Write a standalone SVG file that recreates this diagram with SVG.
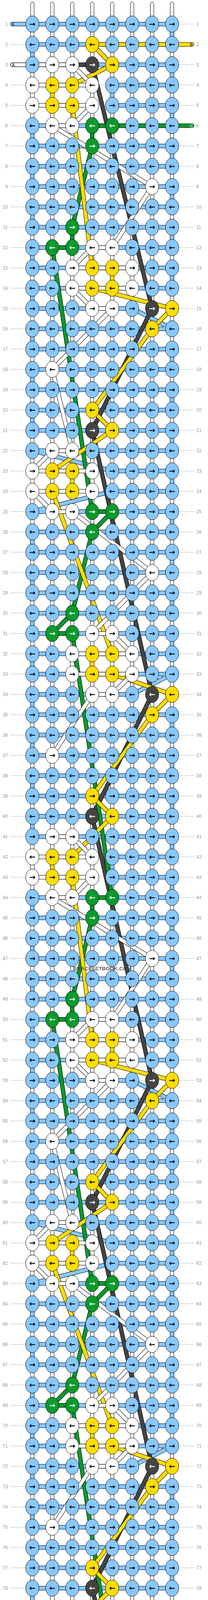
<svg xmlns="http://www.w3.org/2000/svg" xmlns:xlink="http://www.w3.org/1999/xlink" width="532" height="4908" viewBox="0 0 532 4908">
<style>
#nodes ellipse{stroke:#000;stroke-width:1}
#nodes text{font-family:"DejaVu Sans",sans-serif;font-size:19px;font-weight:bold;text-anchor:middle}
#nodes .L,#nodes .R{font-family:"Liberation Sans",Arial,sans-serif;font-size:12px;font-weight:normal;fill:#999}
#nodes .L{text-anchor:end;transform:translate(-62.7px,4.3px)}
#nodes .R{text-anchor:start;transform:translate(419.3px,4.3px)}
.b ellipse{fill:#88c8ff}.w ellipse{fill:#fff}.y ellipse{fill:#ffdd00}.g ellipse{fill:#0b9a2c}.d ellipse{fill:#444}
.g text,.d text{fill:#fff}
.c2{transform:translateX(51.05px)}.c3{transform:translateX(102.1px)}.c4{transform:translateX(153.15px)}.c5{transform:translateX(204.2px)}.c6{transform:translateX(255.25px)}.c7{transform:translateX(306.3px)}.c8{transform:translateX(357.35px)}
.lab{font-family:"Liberation Sans",Arial,sans-serif;font-size:11px;text-anchor:middle}
</style>
<defs>
<pattern id="gp" patternUnits="userSpaceOnUse" x="0" y="61.2" width="10" height="52"><rect width="10" height="1" fill="#bbb"/></pattern>
<path id="pBase" vector-effect="non-scaling-stroke" d="M0,-1V93M1,-1V93M2,-1V93M3,-1V93M4,-1V93M5,-1V93M6,-1V93M7,-1V93"/>
<path id="pE" vector-effect="non-scaling-stroke" d="M-1,0H7V1H0V2H7V3H4V4H7V5H0V6H7V7H0V8H7V9H0V10H7V11H0V12H7V13H0V14H5L7,15H0V16H7V17H0V18H7V19H0V20H7V21H0L4,22H7V23H4L0,24H7V25H0V26H7V27H0V28H7V29H0V30H7V31H0V32H7L5,33H0V34H7V35H0V36H7V37H0V38H7V39H0V40H7V41H4V42H7V43H0V44H7V45H0V46H7V47H0V48H7V49H0V50H7V51H0V52H5L7,53H0V54H7V55H0V56H7V57H0V58H7V59H0L4,60H7V61H4L0,62H7V63H0V64H7V65H0V66H7V67H0V68H7V69H0V70H7L5,71H0V72H7V73H0V74H7V75H0V76H7V77H0V78H7V79H4V80H7V81H0V82H7V83H0V84H7V85H0V86H7V87H0V88H7V89H0V90H5L7,91H0V92H8"/>
<path id="pD" vector-effect="non-scaling-stroke" d="M-1,2L3,2L6,14L3,20L6,33L3,39L6,52L3,58L6,71L3,77L6,90H8"/>
<path id="pC" vector-effect="non-scaling-stroke" d="M8,5H3V6L2,10V11H1L3,24H4L3,25L2,29L1,30H2L4,43H3V44L2,48V49H1L3,62H4L3,63L2,67L1,68H2L4,81H3V82L2,86V87H-1"/>
<path id="pB" vector-effect="non-scaling-stroke" d="M8,1H3L4,2L2,3H1V4H2L3,12H4V13H3L7,14L6,15L3,19L4,20L1,22H2V23H1L4,31H3V32H4L7,33L6,34L3,38L4,39L2,41H1V42H2L3,50H4V51H3L7,52L6,53L3,57L4,58L1,60H2V61H1L4,69H3V70H4L7,71L6,72L3,76L4,77L2,79H1V80H2L3,88H4V89H3L7,90L6,91H-1"/>
<path id="pA" vector-effect="non-scaling-stroke" d="M-1,2H2L3,3H0V4H3L2,5H1L6,8L4,11H3L2,12H5V13H2L3,14H4L1,17L2,21H1L0,22H3V23H0L1,24H2L6,27L3,30H4L5,31H2V32H5L4,33H3L1,36V40H2L3,41H0V42H3L2,43H1L6,46L4,49H3L2,50H5V51H2L3,52H4L1,55L2,59H1L0,60H3V61H0L1,62H2L6,65L3,68H4L5,69H2V70H5L4,71H3L1,74V78H2L3,79H0V80H3L2,81H1L6,84L4,87H3L2,88H5V89H2L3,90H8"/>
</defs>
<rect width="532" height="4908" fill="#fff"/>
<rect id="guides" x="25.7" y="61.2" width="471" height="4785" fill="url(#gp)"/>
<g id="connectors" transform="translate(82.7 61.7) scale(51.05 52)" fill="none" stroke-linejoin="round" stroke-linecap="round">
<use xlink:href="#pBase" stroke="#000" stroke-width="10"/>
<use xlink:href="#pBase" stroke="#fff" stroke-width="8"/>
<use xlink:href="#pBase" stroke="#bbb" stroke-width="1"/>
<use xlink:href="#pE" stroke="#000" stroke-width="11"/>
<use xlink:href="#pE" stroke="#88c8ff" stroke-width="9"/>
<use xlink:href="#pD" stroke="#000" stroke-width="11"/>
<use xlink:href="#pD" stroke="#444" stroke-width="9"/>
<use xlink:href="#pC" stroke="#000" stroke-width="11"/>
<use xlink:href="#pC" stroke="#0b9a2c" stroke-width="9"/>
<use xlink:href="#pB" stroke="#000" stroke-width="11"/>
<use xlink:href="#pB" stroke="#ffdd00" stroke-width="9"/>
<use xlink:href="#pA" stroke="#000" stroke-width="11"/>
<use xlink:href="#pA" stroke="#fff" stroke-width="9"/>
</g>
<g id="endlabels" class="lab">
<text x="34" y="65.6">E</text>
<text x="489.5" y="117.6">B</text>
<text x="34" y="169.6">A</text>
<text x="489.5" y="325.6" fill="#fff">C</text>
<text x="33.5" y="4589.6" fill="#fff">C</text>
<text x="489.5" y="4745.6">A</text>
<text x="34" y="4797.6">B</text>
<text x="489.5" y="4849.6">E</text>
</g>
<g id="nodes" transform="translate(82.7 61.7)">
<g transform="translate(0 0)"><text class="L">1</text><text class="R">1</text><g id="k1-1" class="b"><ellipse rx="17" ry="20.8"/><text y="6.5">→</text></g><g id="k1-2" class="b c2"><ellipse rx="17" ry="20.8"/><text y="6.5">→</text></g><g id="k1-3" class="b c3"><ellipse rx="17" ry="20.8"/><text y="6.5">→</text></g><g id="k1-4" class="b c4"><ellipse rx="17" ry="20.8"/><text y="6.5">→</text></g><g id="k1-5" class="b c5"><ellipse rx="17" ry="20.8"/><text y="6.5">→</text></g><g id="k1-6" class="b c6"><ellipse rx="17" ry="20.8"/><text y="6.5">→</text></g><g id="k1-7" class="b c7"><ellipse rx="17" ry="20.8"/><text y="6.5">→</text></g><g id="k1-8" class="b c8"><ellipse rx="17" ry="20.8"/><text y="6.5">→</text></g></g>
<g transform="translate(0 52)"><text class="L">2</text><text class="R">2</text><g id="k2-1" class="b"><ellipse rx="17" ry="20.8"/><text y="6.5">←</text></g><g id="k2-2" class="b c2"><ellipse rx="17" ry="20.8"/><text y="6.5">←</text></g><g id="k2-3" class="b c3"><ellipse rx="17" ry="20.8"/><text y="6.5">←</text></g><g id="k2-4" class="y c4"><ellipse rx="17" ry="20.8"/><text y="6.5">←</text></g><g id="k2-5" class="b c5"><ellipse rx="17" ry="20.8"/><text y="6.5">←</text></g><g id="k2-6" class="b c6"><ellipse rx="17" ry="20.8"/><text y="6.5">←</text></g><g id="k2-7" class="b c7"><ellipse rx="17" ry="20.8"/><text y="6.5">←</text></g><g id="k2-8" class="b c8"><ellipse rx="17" ry="20.8"/><text y="6.5">←</text></g></g>
<g transform="translate(0 104)"><text class="L">3</text><text class="R">3</text><g id="k3-1" class="b"><ellipse rx="17" ry="20.8"/><text y="6.5">→</text></g><g id="k3-2" class="w c2"><ellipse rx="17" ry="20.8"/><text y="6.5">→</text></g><g id="k3-3" class="w c3"><ellipse rx="17" ry="20.8"/><text y="6.5">→</text></g><g id="k3-4" class="d c4"><ellipse rx="17" ry="20.8"/><text y="6.5">→</text></g><g id="k3-5" class="y c5"><ellipse rx="17" ry="20.8"/><text y="6.5">→</text></g><g id="k3-6" class="b c6"><ellipse rx="17" ry="20.8"/><text y="6.5">→</text></g><g id="k3-7" class="b c7"><ellipse rx="17" ry="20.8"/><text y="6.5">→</text></g><g id="k3-8" class="b c8"><ellipse rx="17" ry="20.8"/><text y="6.5">→</text></g></g>
<g transform="translate(0 156)"><text class="L">4</text><text class="R">4</text><g id="k4-1" class="w"><ellipse rx="17" ry="20.8"/><text y="6.5">←</text></g><g id="k4-2" class="y c2"><ellipse rx="17" ry="20.8"/><text y="6.5">←</text></g><g id="k4-3" class="y c3"><ellipse rx="17" ry="20.8"/><text y="6.5">←</text></g><g id="k4-4" class="w c4"><ellipse rx="17" ry="20.8"/><text y="6.5">←</text></g><g id="k4-5" class="b c5"><ellipse rx="17" ry="20.8"/><text y="6.5">←</text></g><g id="k4-6" class="b c6"><ellipse rx="17" ry="20.8"/><text y="6.5">←</text></g><g id="k4-7" class="b c7"><ellipse rx="17" ry="20.8"/><text y="6.5">←</text></g><g id="k4-8" class="b c8"><ellipse rx="17" ry="20.8"/><text y="6.5">←</text></g></g>
<g transform="translate(0 208)"><text class="L">5</text><text class="R">5</text><g id="k5-1" class="w"><ellipse rx="17" ry="20.8"/><text y="6.5">→</text></g><g id="k5-2" class="y c2"><ellipse rx="17" ry="20.8"/><text y="6.5">→</text></g><g id="k5-3" class="y c3"><ellipse rx="17" ry="20.8"/><text y="6.5">→</text></g><g id="k5-4" class="w c4"><ellipse rx="17" ry="20.8"/><text y="6.5">→</text></g><g id="k5-5" class="b c5"><ellipse rx="17" ry="20.8"/><text y="6.5">→</text></g><g id="k5-6" class="b c6"><ellipse rx="17" ry="20.8"/><text y="6.5">→</text></g><g id="k5-7" class="b c7"><ellipse rx="17" ry="20.8"/><text y="6.5">→</text></g><g id="k5-8" class="b c8"><ellipse rx="17" ry="20.8"/><text y="6.5">→</text></g></g>
<g transform="translate(0 260)"><text class="L">6</text><text class="R">6</text><g id="k6-1" class="b"><ellipse rx="17" ry="20.8"/><text y="6.5">←</text></g><g id="k6-2" class="w c2"><ellipse rx="17" ry="20.8"/><text y="6.5">←</text></g><g id="k6-3" class="w c3"><ellipse rx="17" ry="20.8"/><text y="6.5">←</text></g><g id="k6-4" class="g c4"><ellipse rx="17" ry="20.8"/><text y="6.5">←</text></g><g id="k6-5" class="g c5"><ellipse rx="17" ry="20.8"/><text y="6.5">←</text></g><g id="k6-6" class="b c6"><ellipse rx="17" ry="20.8"/><text y="6.5">←</text></g><g id="k6-7" class="b c7"><ellipse rx="17" ry="20.8"/><text y="6.5">←</text></g><g id="k6-8" class="b c8"><ellipse rx="17" ry="20.8"/><text y="6.5">←</text></g></g>
<g transform="translate(0 312)"><text class="L">7</text><text class="R">7</text><g id="k7-1" class="b"><ellipse rx="17" ry="20.8"/><text y="6.5">→</text></g><g id="k7-2" class="b c2"><ellipse rx="17" ry="20.8"/><text y="6.5">→</text></g><g id="k7-3" class="b c3"><ellipse rx="17" ry="20.8"/><text y="6.5">→</text></g><g id="k7-4" class="g c4"><ellipse rx="17" ry="20.8"/><text y="6.5">→</text></g><g id="k7-5" class="b c5"><ellipse rx="17" ry="20.8"/><text y="6.5">→</text></g><g id="k7-6" class="b c6"><ellipse rx="17" ry="20.8"/><text y="6.5">→</text></g><g id="k7-7" class="b c7"><ellipse rx="17" ry="20.8"/><text y="6.5">→</text></g><g id="k7-8" class="b c8"><ellipse rx="17" ry="20.8"/><text y="6.5">→</text></g></g>
<g transform="translate(0 364)"><text class="L">8</text><text class="R">8</text><g id="k8-1" class="b"><ellipse rx="17" ry="20.8"/><text y="6.5">←</text></g><g id="k8-2" class="b c2"><ellipse rx="17" ry="20.8"/><text y="6.5">←</text></g><g id="k8-3" class="b c3"><ellipse rx="17" ry="20.8"/><text y="6.5">←</text></g><g id="k8-4" class="b c4"><ellipse rx="17" ry="20.8"/><text y="6.5">←</text></g><g id="k8-5" class="b c5"><ellipse rx="17" ry="20.8"/><text y="6.5">←</text></g><g id="k8-6" class="b c6"><ellipse rx="17" ry="20.8"/><text y="6.5">←</text></g><g id="k8-7" class="b c7"><ellipse rx="17" ry="20.8"/><text y="6.5">←</text></g><g id="k8-8" class="b c8"><ellipse rx="17" ry="20.8"/><text y="6.5">←</text></g></g>
<g transform="translate(0 416)"><text class="L">9</text><text class="R">9</text><g id="k9-1" class="b"><ellipse rx="17" ry="20.8"/><text y="6.5">→</text></g><g id="k9-2" class="b c2"><ellipse rx="17" ry="20.8"/><text y="6.5">→</text></g><g id="k9-3" class="b c3"><ellipse rx="17" ry="20.8"/><text y="6.5">→</text></g><g id="k9-4" class="b c4"><ellipse rx="17" ry="20.8"/><text y="6.5">→</text></g><g id="k9-5" class="b c5"><ellipse rx="17" ry="20.8"/><text y="6.5">→</text></g><g id="k9-6" class="b c6"><ellipse rx="17" ry="20.8"/><text y="6.5">→</text></g><g id="k9-7" class="w c7"><ellipse rx="17" ry="20.8"/><text y="6.5">→</text></g><g id="k9-8" class="b c8"><ellipse rx="17" ry="20.8"/><text y="6.5">→</text></g></g>
<g transform="translate(0 468)"><text class="L">10</text><text class="R">10</text><g id="k10-1" class="b"><ellipse rx="17" ry="20.8"/><text y="6.5">←</text></g><g id="k10-2" class="b c2"><ellipse rx="17" ry="20.8"/><text y="6.5">←</text></g><g id="k10-3" class="b c3"><ellipse rx="17" ry="20.8"/><text y="6.5">←</text></g><g id="k10-4" class="b c4"><ellipse rx="17" ry="20.8"/><text y="6.5">←</text></g><g id="k10-5" class="b c5"><ellipse rx="17" ry="20.8"/><text y="6.5">←</text></g><g id="k10-6" class="b c6"><ellipse rx="17" ry="20.8"/><text y="6.5">←</text></g><g id="k10-7" class="b c7"><ellipse rx="17" ry="20.8"/><text y="6.5">←</text></g><g id="k10-8" class="b c8"><ellipse rx="17" ry="20.8"/><text y="6.5">←</text></g></g>
<g transform="translate(0 520)"><text class="L">11</text><text class="R">11</text><g id="k11-1" class="b"><ellipse rx="17" ry="20.8"/><text y="6.5">→</text></g><g id="k11-2" class="b c2"><ellipse rx="17" ry="20.8"/><text y="6.5">→</text></g><g id="k11-3" class="g c3"><ellipse rx="17" ry="20.8"/><text y="6.5">→</text></g><g id="k11-4" class="b c4"><ellipse rx="17" ry="20.8"/><text y="6.5">→</text></g><g id="k11-5" class="b c5"><ellipse rx="17" ry="20.8"/><text y="6.5">→</text></g><g id="k11-6" class="b c6"><ellipse rx="17" ry="20.8"/><text y="6.5">→</text></g><g id="k11-7" class="b c7"><ellipse rx="17" ry="20.8"/><text y="6.5">→</text></g><g id="k11-8" class="b c8"><ellipse rx="17" ry="20.8"/><text y="6.5">→</text></g></g>
<g transform="translate(0 572)"><text class="L">12</text><text class="R">12</text><g id="k12-1" class="b"><ellipse rx="17" ry="20.8"/><text y="6.5">←</text></g><g id="k12-2" class="g c2"><ellipse rx="17" ry="20.8"/><text y="6.5">←</text></g><g id="k12-3" class="g c3"><ellipse rx="17" ry="20.8"/><text y="6.5">←</text></g><g id="k12-4" class="w c4"><ellipse rx="17" ry="20.8"/><text y="6.5">←</text></g><g id="k12-5" class="w c5"><ellipse rx="17" ry="20.8"/><text y="6.5">←</text></g><g id="k12-6" class="b c6"><ellipse rx="17" ry="20.8"/><text y="6.5">←</text></g><g id="k12-7" class="b c7"><ellipse rx="17" ry="20.8"/><text y="6.5">←</text></g><g id="k12-8" class="b c8"><ellipse rx="17" ry="20.8"/><text y="6.5">←</text></g></g>
<g transform="translate(0 624)"><text class="L">13</text><text class="R">13</text><g id="k13-1" class="b"><ellipse rx="17" ry="20.8"/><text y="6.5">→</text></g><g id="k13-2" class="b c2"><ellipse rx="17" ry="20.8"/><text y="6.5">→</text></g><g id="k13-3" class="w c3"><ellipse rx="17" ry="20.8"/><text y="6.5">→</text></g><g id="k13-4" class="y c4"><ellipse rx="17" ry="20.8"/><text y="6.5">→</text></g><g id="k13-5" class="y c5"><ellipse rx="17" ry="20.8"/><text y="6.5">→</text></g><g id="k13-6" class="w c6"><ellipse rx="17" ry="20.8"/><text y="6.5">→</text></g><g id="k13-7" class="b c7"><ellipse rx="17" ry="20.8"/><text y="6.5">→</text></g><g id="k13-8" class="b c8"><ellipse rx="17" ry="20.8"/><text y="6.5">→</text></g></g>
<g transform="translate(0 676)"><text class="L">14</text><text class="R">14</text><g id="k14-1" class="b"><ellipse rx="17" ry="20.8"/><text y="6.5">←</text></g><g id="k14-2" class="b c2"><ellipse rx="17" ry="20.8"/><text y="6.5">←</text></g><g id="k14-3" class="w c3"><ellipse rx="17" ry="20.8"/><text y="6.5">←</text></g><g id="k14-4" class="y c4"><ellipse rx="17" ry="20.8"/><text y="6.5">←</text></g><g id="k14-5" class="y c5"><ellipse rx="17" ry="20.8"/><text y="6.5">←</text></g><g id="k14-6" class="w c6"><ellipse rx="17" ry="20.8"/><text y="6.5">←</text></g><g id="k14-7" class="b c7"><ellipse rx="17" ry="20.8"/><text y="6.5">←</text></g><g id="k14-8" class="b c8"><ellipse rx="17" ry="20.8"/><text y="6.5">←</text></g></g>
<g transform="translate(0 728)"><text class="L">15</text><text class="R">15</text><g id="k15-1" class="b"><ellipse rx="17" ry="20.8"/><text y="6.5">→</text></g><g id="k15-2" class="b c2"><ellipse rx="17" ry="20.8"/><text y="6.5">→</text></g><g id="k15-3" class="b c3"><ellipse rx="17" ry="20.8"/><text y="6.5">→</text></g><g id="k15-4" class="w c4"><ellipse rx="17" ry="20.8"/><text y="6.5">→</text></g><g id="k15-5" class="w c5"><ellipse rx="17" ry="20.8"/><text y="6.5">→</text></g><g id="k15-6" class="b c6"><ellipse rx="17" ry="20.8"/><text y="6.5">→</text></g><g id="k15-7" class="d c7"><ellipse rx="17" ry="20.8"/><text y="6.5">→</text></g><g id="k15-8" class="y c8"><ellipse rx="17" ry="20.8"/><text y="6.5">→</text></g></g>
<g transform="translate(0 780)"><text class="L">16</text><text class="R">16</text><g id="k16-1" class="b"><ellipse rx="17" ry="20.8"/><text y="6.5">←</text></g><g id="k16-2" class="b c2"><ellipse rx="17" ry="20.8"/><text y="6.5">←</text></g><g id="k16-3" class="b c3"><ellipse rx="17" ry="20.8"/><text y="6.5">←</text></g><g id="k16-4" class="b c4"><ellipse rx="17" ry="20.8"/><text y="6.5">←</text></g><g id="k16-5" class="b c5"><ellipse rx="17" ry="20.8"/><text y="6.5">←</text></g><g id="k16-6" class="b c6"><ellipse rx="17" ry="20.8"/><text y="6.5">←</text></g><g id="k16-7" class="y c7"><ellipse rx="17" ry="20.8"/><text y="6.5">←</text></g><g id="k16-8" class="b c8"><ellipse rx="17" ry="20.8"/><text y="6.5">←</text></g></g>
<g transform="translate(0 832)"><text class="L">17</text><text class="R">17</text><g id="k17-1" class="b"><ellipse rx="17" ry="20.8"/><text y="6.5">→</text></g><g id="k17-2" class="b c2"><ellipse rx="17" ry="20.8"/><text y="6.5">→</text></g><g id="k17-3" class="b c3"><ellipse rx="17" ry="20.8"/><text y="6.5">→</text></g><g id="k17-4" class="b c4"><ellipse rx="17" ry="20.8"/><text y="6.5">→</text></g><g id="k17-5" class="b c5"><ellipse rx="17" ry="20.8"/><text y="6.5">→</text></g><g id="k17-6" class="b c6"><ellipse rx="17" ry="20.8"/><text y="6.5">→</text></g><g id="k17-7" class="b c7"><ellipse rx="17" ry="20.8"/><text y="6.5">→</text></g><g id="k17-8" class="b c8"><ellipse rx="17" ry="20.8"/><text y="6.5">→</text></g></g>
<g transform="translate(0 884)"><text class="L">18</text><text class="R">18</text><g id="k18-1" class="b"><ellipse rx="17" ry="20.8"/><text y="6.5">←</text></g><g id="k18-2" class="w c2"><ellipse rx="17" ry="20.8"/><text y="6.5">←</text></g><g id="k18-3" class="b c3"><ellipse rx="17" ry="20.8"/><text y="6.5">←</text></g><g id="k18-4" class="b c4"><ellipse rx="17" ry="20.8"/><text y="6.5">←</text></g><g id="k18-5" class="b c5"><ellipse rx="17" ry="20.8"/><text y="6.5">←</text></g><g id="k18-6" class="b c6"><ellipse rx="17" ry="20.8"/><text y="6.5">←</text></g><g id="k18-7" class="b c7"><ellipse rx="17" ry="20.8"/><text y="6.5">←</text></g><g id="k18-8" class="b c8"><ellipse rx="17" ry="20.8"/><text y="6.5">←</text></g></g>
<g transform="translate(0 936)"><text class="L">19</text><text class="R">19</text><g id="k19-1" class="b"><ellipse rx="17" ry="20.8"/><text y="6.5">→</text></g><g id="k19-2" class="b c2"><ellipse rx="17" ry="20.8"/><text y="6.5">→</text></g><g id="k19-3" class="b c3"><ellipse rx="17" ry="20.8"/><text y="6.5">→</text></g><g id="k19-4" class="b c4"><ellipse rx="17" ry="20.8"/><text y="6.5">→</text></g><g id="k19-5" class="b c5"><ellipse rx="17" ry="20.8"/><text y="6.5">→</text></g><g id="k19-6" class="b c6"><ellipse rx="17" ry="20.8"/><text y="6.5">→</text></g><g id="k19-7" class="b c7"><ellipse rx="17" ry="20.8"/><text y="6.5">→</text></g><g id="k19-8" class="b c8"><ellipse rx="17" ry="20.8"/><text y="6.5">→</text></g></g>
<g transform="translate(0 988)"><text class="L">20</text><text class="R">20</text><g id="k20-1" class="b"><ellipse rx="17" ry="20.8"/><text y="6.5">←</text></g><g id="k20-2" class="b c2"><ellipse rx="17" ry="20.8"/><text y="6.5">←</text></g><g id="k20-3" class="b c3"><ellipse rx="17" ry="20.8"/><text y="6.5">←</text></g><g id="k20-4" class="y c4"><ellipse rx="17" ry="20.8"/><text y="6.5">←</text></g><g id="k20-5" class="b c5"><ellipse rx="17" ry="20.8"/><text y="6.5">←</text></g><g id="k20-6" class="b c6"><ellipse rx="17" ry="20.8"/><text y="6.5">←</text></g><g id="k20-7" class="b c7"><ellipse rx="17" ry="20.8"/><text y="6.5">←</text></g><g id="k20-8" class="b c8"><ellipse rx="17" ry="20.8"/><text y="6.5">←</text></g></g>
<g transform="translate(0 1040)"><text class="L">21</text><text class="R">21</text><g id="k21-1" class="b"><ellipse rx="17" ry="20.8"/><text y="6.5">→</text></g><g id="k21-2" class="b c2"><ellipse rx="17" ry="20.8"/><text y="6.5">→</text></g><g id="k21-3" class="b c3"><ellipse rx="17" ry="20.8"/><text y="6.5">→</text></g><g id="k21-4" class="d c4"><ellipse rx="17" ry="20.8"/><text y="6.5">→</text></g><g id="k21-5" class="y c5"><ellipse rx="17" ry="20.8"/><text y="6.5">→</text></g><g id="k21-6" class="b c6"><ellipse rx="17" ry="20.8"/><text y="6.5">→</text></g><g id="k21-7" class="b c7"><ellipse rx="17" ry="20.8"/><text y="6.5">→</text></g><g id="k21-8" class="b c8"><ellipse rx="17" ry="20.8"/><text y="6.5">→</text></g></g>
<g transform="translate(0 1092)"><text class="L">22</text><text class="R">22</text><g id="k22-1" class="b"><ellipse rx="17" ry="20.8"/><text y="6.5">←</text></g><g id="k22-2" class="w c2"><ellipse rx="17" ry="20.8"/><text y="6.5">←</text></g><g id="k22-3" class="w c3"><ellipse rx="17" ry="20.8"/><text y="6.5">←</text></g><g id="k22-4" class="b c4"><ellipse rx="17" ry="20.8"/><text y="6.5">←</text></g><g id="k22-5" class="b c5"><ellipse rx="17" ry="20.8"/><text y="6.5">←</text></g><g id="k22-6" class="b c6"><ellipse rx="17" ry="20.8"/><text y="6.5">←</text></g><g id="k22-7" class="b c7"><ellipse rx="17" ry="20.8"/><text y="6.5">←</text></g><g id="k22-8" class="b c8"><ellipse rx="17" ry="20.8"/><text y="6.5">←</text></g></g>
<g transform="translate(0 1144)"><text class="L">23</text><text class="R">23</text><g id="k23-1" class="w"><ellipse rx="17" ry="20.8"/><text y="6.5">→</text></g><g id="k23-2" class="y c2"><ellipse rx="17" ry="20.8"/><text y="6.5">→</text></g><g id="k23-3" class="y c3"><ellipse rx="17" ry="20.8"/><text y="6.5">→</text></g><g id="k23-4" class="w c4"><ellipse rx="17" ry="20.8"/><text y="6.5">→</text></g><g id="k23-5" class="b c5"><ellipse rx="17" ry="20.8"/><text y="6.5">→</text></g><g id="k23-6" class="b c6"><ellipse rx="17" ry="20.8"/><text y="6.5">→</text></g><g id="k23-7" class="b c7"><ellipse rx="17" ry="20.8"/><text y="6.5">→</text></g><g id="k23-8" class="b c8"><ellipse rx="17" ry="20.8"/><text y="6.5">→</text></g></g>
<g transform="translate(0 1196)"><text class="L">24</text><text class="R">24</text><g id="k24-1" class="w"><ellipse rx="17" ry="20.8"/><text y="6.5">←</text></g><g id="k24-2" class="y c2"><ellipse rx="17" ry="20.8"/><text y="6.5">←</text></g><g id="k24-3" class="y c3"><ellipse rx="17" ry="20.8"/><text y="6.5">←</text></g><g id="k24-4" class="w c4"><ellipse rx="17" ry="20.8"/><text y="6.5">←</text></g><g id="k24-5" class="b c5"><ellipse rx="17" ry="20.8"/><text y="6.5">←</text></g><g id="k24-6" class="b c6"><ellipse rx="17" ry="20.8"/><text y="6.5">←</text></g><g id="k24-7" class="b c7"><ellipse rx="17" ry="20.8"/><text y="6.5">←</text></g><g id="k24-8" class="b c8"><ellipse rx="17" ry="20.8"/><text y="6.5">←</text></g></g>
<g transform="translate(0 1248)"><text class="L">25</text><text class="R">25</text><g id="k25-1" class="b"><ellipse rx="17" ry="20.8"/><text y="6.5">→</text></g><g id="k25-2" class="w c2"><ellipse rx="17" ry="20.8"/><text y="6.5">→</text></g><g id="k25-3" class="w c3"><ellipse rx="17" ry="20.8"/><text y="6.5">→</text></g><g id="k25-4" class="g c4"><ellipse rx="17" ry="20.8"/><text y="6.5">→</text></g><g id="k25-5" class="g c5"><ellipse rx="17" ry="20.8"/><text y="6.5">→</text></g><g id="k25-6" class="b c6"><ellipse rx="17" ry="20.8"/><text y="6.5">→</text></g><g id="k25-7" class="b c7"><ellipse rx="17" ry="20.8"/><text y="6.5">→</text></g><g id="k25-8" class="b c8"><ellipse rx="17" ry="20.8"/><text y="6.5">→</text></g></g>
<g transform="translate(0 1300)"><text class="L">26</text><text class="R">26</text><g id="k26-1" class="b"><ellipse rx="17" ry="20.8"/><text y="6.5">←</text></g><g id="k26-2" class="b c2"><ellipse rx="17" ry="20.8"/><text y="6.5">←</text></g><g id="k26-3" class="b c3"><ellipse rx="17" ry="20.8"/><text y="6.5">←</text></g><g id="k26-4" class="g c4"><ellipse rx="17" ry="20.8"/><text y="6.5">←</text></g><g id="k26-5" class="b c5"><ellipse rx="17" ry="20.8"/><text y="6.5">←</text></g><g id="k26-6" class="b c6"><ellipse rx="17" ry="20.8"/><text y="6.5">←</text></g><g id="k26-7" class="b c7"><ellipse rx="17" ry="20.8"/><text y="6.5">←</text></g><g id="k26-8" class="b c8"><ellipse rx="17" ry="20.8"/><text y="6.5">←</text></g></g>
<g transform="translate(0 1352)"><text class="L">27</text><text class="R">27</text><g id="k27-1" class="b"><ellipse rx="17" ry="20.8"/><text y="6.5">→</text></g><g id="k27-2" class="b c2"><ellipse rx="17" ry="20.8"/><text y="6.5">→</text></g><g id="k27-3" class="b c3"><ellipse rx="17" ry="20.8"/><text y="6.5">→</text></g><g id="k27-4" class="b c4"><ellipse rx="17" ry="20.8"/><text y="6.5">→</text></g><g id="k27-5" class="b c5"><ellipse rx="17" ry="20.8"/><text y="6.5">→</text></g><g id="k27-6" class="b c6"><ellipse rx="17" ry="20.8"/><text y="6.5">→</text></g><g id="k27-7" class="b c7"><ellipse rx="17" ry="20.8"/><text y="6.5">→</text></g><g id="k27-8" class="b c8"><ellipse rx="17" ry="20.8"/><text y="6.5">→</text></g></g>
<g transform="translate(0 1404)"><text class="L">28</text><text class="R">28</text><g id="k28-1" class="b"><ellipse rx="17" ry="20.8"/><text y="6.5">←</text></g><g id="k28-2" class="b c2"><ellipse rx="17" ry="20.8"/><text y="6.5">←</text></g><g id="k28-3" class="b c3"><ellipse rx="17" ry="20.8"/><text y="6.5">←</text></g><g id="k28-4" class="b c4"><ellipse rx="17" ry="20.8"/><text y="6.5">←</text></g><g id="k28-5" class="b c5"><ellipse rx="17" ry="20.8"/><text y="6.5">←</text></g><g id="k28-6" class="b c6"><ellipse rx="17" ry="20.8"/><text y="6.5">←</text></g><g id="k28-7" class="w c7"><ellipse rx="17" ry="20.8"/><text y="6.5">←</text></g><g id="k28-8" class="b c8"><ellipse rx="17" ry="20.8"/><text y="6.5">←</text></g></g>
<g transform="translate(0 1456)"><text class="L">29</text><text class="R">29</text><g id="k29-1" class="b"><ellipse rx="17" ry="20.8"/><text y="6.5">→</text></g><g id="k29-2" class="b c2"><ellipse rx="17" ry="20.8"/><text y="6.5">→</text></g><g id="k29-3" class="b c3"><ellipse rx="17" ry="20.8"/><text y="6.5">→</text></g><g id="k29-4" class="b c4"><ellipse rx="17" ry="20.8"/><text y="6.5">→</text></g><g id="k29-5" class="b c5"><ellipse rx="17" ry="20.8"/><text y="6.5">→</text></g><g id="k29-6" class="b c6"><ellipse rx="17" ry="20.8"/><text y="6.5">→</text></g><g id="k29-7" class="b c7"><ellipse rx="17" ry="20.8"/><text y="6.5">→</text></g><g id="k29-8" class="b c8"><ellipse rx="17" ry="20.8"/><text y="6.5">→</text></g></g>
<g transform="translate(0 1508)"><text class="L">30</text><text class="R">30</text><g id="k30-1" class="b"><ellipse rx="17" ry="20.8"/><text y="6.5">←</text></g><g id="k30-2" class="b c2"><ellipse rx="17" ry="20.8"/><text y="6.5">←</text></g><g id="k30-3" class="g c3"><ellipse rx="17" ry="20.8"/><text y="6.5">←</text></g><g id="k30-4" class="b c4"><ellipse rx="17" ry="20.8"/><text y="6.5">←</text></g><g id="k30-5" class="b c5"><ellipse rx="17" ry="20.8"/><text y="6.5">←</text></g><g id="k30-6" class="b c6"><ellipse rx="17" ry="20.8"/><text y="6.5">←</text></g><g id="k30-7" class="b c7"><ellipse rx="17" ry="20.8"/><text y="6.5">←</text></g><g id="k30-8" class="b c8"><ellipse rx="17" ry="20.8"/><text y="6.5">←</text></g></g>
<g transform="translate(0 1560)"><text class="L">31</text><text class="R">31</text><g id="k31-1" class="b"><ellipse rx="17" ry="20.8"/><text y="6.5">→</text></g><g id="k31-2" class="g c2"><ellipse rx="17" ry="20.8"/><text y="6.5">→</text></g><g id="k31-3" class="g c3"><ellipse rx="17" ry="20.8"/><text y="6.5">→</text></g><g id="k31-4" class="w c4"><ellipse rx="17" ry="20.8"/><text y="6.5">→</text></g><g id="k31-5" class="w c5"><ellipse rx="17" ry="20.8"/><text y="6.5">→</text></g><g id="k31-6" class="b c6"><ellipse rx="17" ry="20.8"/><text y="6.5">→</text></g><g id="k31-7" class="b c7"><ellipse rx="17" ry="20.8"/><text y="6.5">→</text></g><g id="k31-8" class="b c8"><ellipse rx="17" ry="20.8"/><text y="6.5">→</text></g></g>
<g transform="translate(0 1612)"><text class="L">32</text><text class="R">32</text><g id="k32-1" class="b"><ellipse rx="17" ry="20.8"/><text y="6.5">←</text></g><g id="k32-2" class="b c2"><ellipse rx="17" ry="20.8"/><text y="6.5">←</text></g><g id="k32-3" class="w c3"><ellipse rx="17" ry="20.8"/><text y="6.5">←</text></g><g id="k32-4" class="y c4"><ellipse rx="17" ry="20.8"/><text y="6.5">←</text></g><g id="k32-5" class="y c5"><ellipse rx="17" ry="20.8"/><text y="6.5">←</text></g><g id="k32-6" class="w c6"><ellipse rx="17" ry="20.8"/><text y="6.5">←</text></g><g id="k32-7" class="b c7"><ellipse rx="17" ry="20.8"/><text y="6.5">←</text></g><g id="k32-8" class="b c8"><ellipse rx="17" ry="20.8"/><text y="6.5">←</text></g></g>
<g transform="translate(0 1664)"><text class="L">33</text><text class="R">33</text><g id="k33-1" class="b"><ellipse rx="17" ry="20.8"/><text y="6.5">→</text></g><g id="k33-2" class="b c2"><ellipse rx="17" ry="20.8"/><text y="6.5">→</text></g><g id="k33-3" class="w c3"><ellipse rx="17" ry="20.8"/><text y="6.5">→</text></g><g id="k33-4" class="y c4"><ellipse rx="17" ry="20.8"/><text y="6.5">→</text></g><g id="k33-5" class="y c5"><ellipse rx="17" ry="20.8"/><text y="6.5">→</text></g><g id="k33-6" class="w c6"><ellipse rx="17" ry="20.8"/><text y="6.5">→</text></g><g id="k33-7" class="b c7"><ellipse rx="17" ry="20.8"/><text y="6.5">→</text></g><g id="k33-8" class="b c8"><ellipse rx="17" ry="20.8"/><text y="6.5">→</text></g></g>
<g transform="translate(0 1716)"><text class="L">34</text><text class="R">34</text><g id="k34-1" class="b"><ellipse rx="17" ry="20.8"/><text y="6.5">←</text></g><g id="k34-2" class="b c2"><ellipse rx="17" ry="20.8"/><text y="6.5">←</text></g><g id="k34-3" class="b c3"><ellipse rx="17" ry="20.8"/><text y="6.5">←</text></g><g id="k34-4" class="w c4"><ellipse rx="17" ry="20.8"/><text y="6.5">←</text></g><g id="k34-5" class="w c5"><ellipse rx="17" ry="20.8"/><text y="6.5">←</text></g><g id="k34-6" class="b c6"><ellipse rx="17" ry="20.8"/><text y="6.5">←</text></g><g id="k34-7" class="d c7"><ellipse rx="17" ry="20.8"/><text y="6.5">←</text></g><g id="k34-8" class="y c8"><ellipse rx="17" ry="20.8"/><text y="6.5">←</text></g></g>
<g transform="translate(0 1768)"><text class="L">35</text><text class="R">35</text><g id="k35-1" class="b"><ellipse rx="17" ry="20.8"/><text y="6.5">→</text></g><g id="k35-2" class="b c2"><ellipse rx="17" ry="20.8"/><text y="6.5">→</text></g><g id="k35-3" class="b c3"><ellipse rx="17" ry="20.8"/><text y="6.5">→</text></g><g id="k35-4" class="b c4"><ellipse rx="17" ry="20.8"/><text y="6.5">→</text></g><g id="k35-5" class="b c5"><ellipse rx="17" ry="20.8"/><text y="6.5">→</text></g><g id="k35-6" class="b c6"><ellipse rx="17" ry="20.8"/><text y="6.5">→</text></g><g id="k35-7" class="y c7"><ellipse rx="17" ry="20.8"/><text y="6.5">→</text></g><g id="k35-8" class="b c8"><ellipse rx="17" ry="20.8"/><text y="6.5">→</text></g></g>
<g transform="translate(0 1820)"><text class="L">36</text><text class="R">36</text><g id="k36-1" class="b"><ellipse rx="17" ry="20.8"/><text y="6.5">←</text></g><g id="k36-2" class="b c2"><ellipse rx="17" ry="20.8"/><text y="6.5">←</text></g><g id="k36-3" class="b c3"><ellipse rx="17" ry="20.8"/><text y="6.5">←</text></g><g id="k36-4" class="b c4"><ellipse rx="17" ry="20.8"/><text y="6.5">←</text></g><g id="k36-5" class="b c5"><ellipse rx="17" ry="20.8"/><text y="6.5">←</text></g><g id="k36-6" class="b c6"><ellipse rx="17" ry="20.8"/><text y="6.5">←</text></g><g id="k36-7" class="b c7"><ellipse rx="17" ry="20.8"/><text y="6.5">←</text></g><g id="k36-8" class="b c8"><ellipse rx="17" ry="20.8"/><text y="6.5">←</text></g></g>
<g transform="translate(0 1872)"><text class="L">37</text><text class="R">37</text><g id="k37-1" class="b"><ellipse rx="17" ry="20.8"/><text y="6.5">→</text></g><g id="k37-2" class="w c2"><ellipse rx="17" ry="20.8"/><text y="6.5">→</text></g><g id="k37-3" class="b c3"><ellipse rx="17" ry="20.8"/><text y="6.5">→</text></g><g id="k37-4" class="b c4"><ellipse rx="17" ry="20.8"/><text y="6.5">→</text></g><g id="k37-5" class="b c5"><ellipse rx="17" ry="20.8"/><text y="6.5">→</text></g><g id="k37-6" class="b c6"><ellipse rx="17" ry="20.8"/><text y="6.5">→</text></g><g id="k37-7" class="b c7"><ellipse rx="17" ry="20.8"/><text y="6.5">→</text></g><g id="k37-8" class="b c8"><ellipse rx="17" ry="20.8"/><text y="6.5">→</text></g></g>
<g transform="translate(0 1924)"><text class="L">38</text><text class="R">38</text><g id="k38-1" class="b"><ellipse rx="17" ry="20.8"/><text y="6.5">←</text></g><g id="k38-2" class="b c2"><ellipse rx="17" ry="20.8"/><text y="6.5">←</text></g><g id="k38-3" class="b c3"><ellipse rx="17" ry="20.8"/><text y="6.5">←</text></g><g id="k38-4" class="b c4"><ellipse rx="17" ry="20.8"/><text y="6.5">←</text></g><g id="k38-5" class="b c5"><ellipse rx="17" ry="20.8"/><text y="6.5">←</text></g><g id="k38-6" class="b c6"><ellipse rx="17" ry="20.8"/><text y="6.5">←</text></g><g id="k38-7" class="b c7"><ellipse rx="17" ry="20.8"/><text y="6.5">←</text></g><g id="k38-8" class="b c8"><ellipse rx="17" ry="20.8"/><text y="6.5">←</text></g></g>
<g transform="translate(0 1976)"><text class="L">39</text><text class="R">39</text><g id="k39-1" class="b"><ellipse rx="17" ry="20.8"/><text y="6.5">→</text></g><g id="k39-2" class="b c2"><ellipse rx="17" ry="20.8"/><text y="6.5">→</text></g><g id="k39-3" class="b c3"><ellipse rx="17" ry="20.8"/><text y="6.5">→</text></g><g id="k39-4" class="y c4"><ellipse rx="17" ry="20.8"/><text y="6.5">→</text></g><g id="k39-5" class="b c5"><ellipse rx="17" ry="20.8"/><text y="6.5">→</text></g><g id="k39-6" class="b c6"><ellipse rx="17" ry="20.8"/><text y="6.5">→</text></g><g id="k39-7" class="b c7"><ellipse rx="17" ry="20.8"/><text y="6.5">→</text></g><g id="k39-8" class="b c8"><ellipse rx="17" ry="20.8"/><text y="6.5">→</text></g></g>
<g transform="translate(0 2028)"><text class="L">40</text><text class="R">40</text><g id="k40-1" class="b"><ellipse rx="17" ry="20.8"/><text y="6.5">←</text></g><g id="k40-2" class="b c2"><ellipse rx="17" ry="20.8"/><text y="6.5">←</text></g><g id="k40-3" class="b c3"><ellipse rx="17" ry="20.8"/><text y="6.5">←</text></g><g id="k40-4" class="d c4"><ellipse rx="17" ry="20.8"/><text y="6.5">←</text></g><g id="k40-5" class="y c5"><ellipse rx="17" ry="20.8"/><text y="6.5">←</text></g><g id="k40-6" class="b c6"><ellipse rx="17" ry="20.8"/><text y="6.5">←</text></g><g id="k40-7" class="b c7"><ellipse rx="17" ry="20.8"/><text y="6.5">←</text></g><g id="k40-8" class="b c8"><ellipse rx="17" ry="20.8"/><text y="6.5">←</text></g></g>
<g transform="translate(0 2080)"><text class="L">41</text><text class="R">41</text><g id="k41-1" class="b"><ellipse rx="17" ry="20.8"/><text y="6.5">→</text></g><g id="k41-2" class="w c2"><ellipse rx="17" ry="20.8"/><text y="6.5">→</text></g><g id="k41-3" class="w c3"><ellipse rx="17" ry="20.8"/><text y="6.5">→</text></g><g id="k41-4" class="b c4"><ellipse rx="17" ry="20.8"/><text y="6.5">→</text></g><g id="k41-5" class="b c5"><ellipse rx="17" ry="20.8"/><text y="6.5">→</text></g><g id="k41-6" class="b c6"><ellipse rx="17" ry="20.8"/><text y="6.5">→</text></g><g id="k41-7" class="b c7"><ellipse rx="17" ry="20.8"/><text y="6.5">→</text></g><g id="k41-8" class="b c8"><ellipse rx="17" ry="20.8"/><text y="6.5">→</text></g></g>
<g transform="translate(0 2132)"><text class="L">42</text><text class="R">42</text><g id="k42-1" class="w"><ellipse rx="17" ry="20.8"/><text y="6.5">←</text></g><g id="k42-2" class="y c2"><ellipse rx="17" ry="20.8"/><text y="6.5">←</text></g><g id="k42-3" class="y c3"><ellipse rx="17" ry="20.8"/><text y="6.5">←</text></g><g id="k42-4" class="w c4"><ellipse rx="17" ry="20.8"/><text y="6.5">←</text></g><g id="k42-5" class="b c5"><ellipse rx="17" ry="20.8"/><text y="6.5">←</text></g><g id="k42-6" class="b c6"><ellipse rx="17" ry="20.8"/><text y="6.5">←</text></g><g id="k42-7" class="b c7"><ellipse rx="17" ry="20.8"/><text y="6.5">←</text></g><g id="k42-8" class="b c8"><ellipse rx="17" ry="20.8"/><text y="6.5">←</text></g></g>
<g transform="translate(0 2184)"><text class="L">43</text><text class="R">43</text><g id="k43-1" class="w"><ellipse rx="17" ry="20.8"/><text y="6.5">→</text></g><g id="k43-2" class="y c2"><ellipse rx="17" ry="20.8"/><text y="6.5">→</text></g><g id="k43-3" class="y c3"><ellipse rx="17" ry="20.8"/><text y="6.5">→</text></g><g id="k43-4" class="w c4"><ellipse rx="17" ry="20.8"/><text y="6.5">→</text></g><g id="k43-5" class="b c5"><ellipse rx="17" ry="20.8"/><text y="6.5">→</text></g><g id="k43-6" class="b c6"><ellipse rx="17" ry="20.8"/><text y="6.5">→</text></g><g id="k43-7" class="b c7"><ellipse rx="17" ry="20.8"/><text y="6.5">→</text></g><g id="k43-8" class="b c8"><ellipse rx="17" ry="20.8"/><text y="6.5">→</text></g></g>
<g transform="translate(0 2236)"><text class="L">44</text><text class="R">44</text><g id="k44-1" class="b"><ellipse rx="17" ry="20.8"/><text y="6.5">←</text></g><g id="k44-2" class="w c2"><ellipse rx="17" ry="20.8"/><text y="6.5">←</text></g><g id="k44-3" class="w c3"><ellipse rx="17" ry="20.8"/><text y="6.5">←</text></g><g id="k44-4" class="g c4"><ellipse rx="17" ry="20.8"/><text y="6.5">←</text></g><g id="k44-5" class="g c5"><ellipse rx="17" ry="20.8"/><text y="6.5">←</text></g><g id="k44-6" class="b c6"><ellipse rx="17" ry="20.8"/><text y="6.5">←</text></g><g id="k44-7" class="b c7"><ellipse rx="17" ry="20.8"/><text y="6.5">←</text></g><g id="k44-8" class="b c8"><ellipse rx="17" ry="20.8"/><text y="6.5">←</text></g></g>
<g transform="translate(0 2288)"><text class="L">45</text><text class="R">45</text><g id="k45-1" class="b"><ellipse rx="17" ry="20.8"/><text y="6.5">→</text></g><g id="k45-2" class="b c2"><ellipse rx="17" ry="20.8"/><text y="6.5">→</text></g><g id="k45-3" class="b c3"><ellipse rx="17" ry="20.8"/><text y="6.5">→</text></g><g id="k45-4" class="g c4"><ellipse rx="17" ry="20.8"/><text y="6.5">→</text></g><g id="k45-5" class="b c5"><ellipse rx="17" ry="20.8"/><text y="6.5">→</text></g><g id="k45-6" class="b c6"><ellipse rx="17" ry="20.8"/><text y="6.5">→</text></g><g id="k45-7" class="b c7"><ellipse rx="17" ry="20.8"/><text y="6.5">→</text></g><g id="k45-8" class="b c8"><ellipse rx="17" ry="20.8"/><text y="6.5">→</text></g></g>
<g transform="translate(0 2340)"><text class="L">46</text><text class="R">46</text><g id="k46-1" class="b"><ellipse rx="17" ry="20.8"/><text y="6.5">←</text></g><g id="k46-2" class="b c2"><ellipse rx="17" ry="20.8"/><text y="6.5">←</text></g><g id="k46-3" class="b c3"><ellipse rx="17" ry="20.8"/><text y="6.5">←</text></g><g id="k46-4" class="b c4"><ellipse rx="17" ry="20.8"/><text y="6.5">←</text></g><g id="k46-5" class="b c5"><ellipse rx="17" ry="20.8"/><text y="6.5">←</text></g><g id="k46-6" class="b c6"><ellipse rx="17" ry="20.8"/><text y="6.5">←</text></g><g id="k46-7" class="b c7"><ellipse rx="17" ry="20.8"/><text y="6.5">←</text></g><g id="k46-8" class="b c8"><ellipse rx="17" ry="20.8"/><text y="6.5">←</text></g></g>
<g transform="translate(0 2392)"><text class="L">47</text><text class="R">47</text><g id="k47-1" class="b"><ellipse rx="17" ry="20.8"/><text y="6.5">→</text></g><g id="k47-2" class="b c2"><ellipse rx="17" ry="20.8"/><text y="6.5">→</text></g><g id="k47-3" class="b c3"><ellipse rx="17" ry="20.8"/><text y="6.5">→</text></g><g id="k47-4" class="b c4"><ellipse rx="17" ry="20.8"/><text y="6.5">→</text></g><g id="k47-5" class="b c5"><ellipse rx="17" ry="20.8"/><text y="6.5">→</text></g><g id="k47-6" class="b c6"><ellipse rx="17" ry="20.8"/><text y="6.5">→</text></g><g id="k47-7" class="w c7"><ellipse rx="17" ry="20.8"/><text y="6.5">→</text></g><g id="k47-8" class="b c8"><ellipse rx="17" ry="20.8"/><text y="6.5">→</text></g></g>
<g transform="translate(0 2444)"><text class="L">48</text><text class="R">48</text><g id="k48-1" class="b"><ellipse rx="17" ry="20.8"/><text y="6.5">←</text></g><g id="k48-2" class="b c2"><ellipse rx="17" ry="20.8"/><text y="6.5">←</text></g><g id="k48-3" class="b c3"><ellipse rx="17" ry="20.8"/><text y="6.5">←</text></g><g id="k48-4" class="b c4"><ellipse rx="17" ry="20.8"/><text y="6.5">←</text></g><g id="k48-5" class="b c5"><ellipse rx="17" ry="20.8"/><text y="6.5">←</text></g><g id="k48-6" class="b c6"><ellipse rx="17" ry="20.8"/><text y="6.5">←</text></g><g id="k48-7" class="b c7"><ellipse rx="17" ry="20.8"/><text y="6.5">←</text></g><g id="k48-8" class="b c8"><ellipse rx="17" ry="20.8"/><text y="6.5">←</text></g></g>
<g transform="translate(0 2496)"><text class="L">49</text><text class="R">49</text><g id="k49-1" class="b"><ellipse rx="17" ry="20.8"/><text y="6.5">→</text></g><g id="k49-2" class="b c2"><ellipse rx="17" ry="20.8"/><text y="6.5">→</text></g><g id="k49-3" class="g c3"><ellipse rx="17" ry="20.8"/><text y="6.5">→</text></g><g id="k49-4" class="b c4"><ellipse rx="17" ry="20.8"/><text y="6.5">→</text></g><g id="k49-5" class="b c5"><ellipse rx="17" ry="20.8"/><text y="6.5">→</text></g><g id="k49-6" class="b c6"><ellipse rx="17" ry="20.8"/><text y="6.5">→</text></g><g id="k49-7" class="b c7"><ellipse rx="17" ry="20.8"/><text y="6.5">→</text></g><g id="k49-8" class="b c8"><ellipse rx="17" ry="20.8"/><text y="6.5">→</text></g></g>
<g transform="translate(0 2548)"><text class="L">50</text><text class="R">50</text><g id="k50-1" class="b"><ellipse rx="17" ry="20.8"/><text y="6.5">←</text></g><g id="k50-2" class="g c2"><ellipse rx="17" ry="20.8"/><text y="6.5">←</text></g><g id="k50-3" class="g c3"><ellipse rx="17" ry="20.8"/><text y="6.5">←</text></g><g id="k50-4" class="w c4"><ellipse rx="17" ry="20.8"/><text y="6.5">←</text></g><g id="k50-5" class="w c5"><ellipse rx="17" ry="20.8"/><text y="6.5">←</text></g><g id="k50-6" class="b c6"><ellipse rx="17" ry="20.8"/><text y="6.5">←</text></g><g id="k50-7" class="b c7"><ellipse rx="17" ry="20.8"/><text y="6.5">←</text></g><g id="k50-8" class="b c8"><ellipse rx="17" ry="20.8"/><text y="6.5">←</text></g></g>
<g transform="translate(0 2600)"><text class="L">51</text><text class="R">51</text><g id="k51-1" class="b"><ellipse rx="17" ry="20.8"/><text y="6.5">→</text></g><g id="k51-2" class="b c2"><ellipse rx="17" ry="20.8"/><text y="6.5">→</text></g><g id="k51-3" class="w c3"><ellipse rx="17" ry="20.8"/><text y="6.5">→</text></g><g id="k51-4" class="y c4"><ellipse rx="17" ry="20.8"/><text y="6.5">→</text></g><g id="k51-5" class="y c5"><ellipse rx="17" ry="20.8"/><text y="6.5">→</text></g><g id="k51-6" class="w c6"><ellipse rx="17" ry="20.8"/><text y="6.5">→</text></g><g id="k51-7" class="b c7"><ellipse rx="17" ry="20.8"/><text y="6.5">→</text></g><g id="k51-8" class="b c8"><ellipse rx="17" ry="20.8"/><text y="6.5">→</text></g></g>
<g transform="translate(0 2652)"><text class="L">52</text><text class="R">52</text><g id="k52-1" class="b"><ellipse rx="17" ry="20.8"/><text y="6.5">←</text></g><g id="k52-2" class="b c2"><ellipse rx="17" ry="20.8"/><text y="6.5">←</text></g><g id="k52-3" class="w c3"><ellipse rx="17" ry="20.8"/><text y="6.5">←</text></g><g id="k52-4" class="y c4"><ellipse rx="17" ry="20.8"/><text y="6.5">←</text></g><g id="k52-5" class="y c5"><ellipse rx="17" ry="20.8"/><text y="6.5">←</text></g><g id="k52-6" class="w c6"><ellipse rx="17" ry="20.8"/><text y="6.5">←</text></g><g id="k52-7" class="b c7"><ellipse rx="17" ry="20.8"/><text y="6.5">←</text></g><g id="k52-8" class="b c8"><ellipse rx="17" ry="20.8"/><text y="6.5">←</text></g></g>
<g transform="translate(0 2704)"><text class="L">53</text><text class="R">53</text><g id="k53-1" class="b"><ellipse rx="17" ry="20.8"/><text y="6.5">→</text></g><g id="k53-2" class="b c2"><ellipse rx="17" ry="20.8"/><text y="6.5">→</text></g><g id="k53-3" class="b c3"><ellipse rx="17" ry="20.8"/><text y="6.5">→</text></g><g id="k53-4" class="w c4"><ellipse rx="17" ry="20.8"/><text y="6.5">→</text></g><g id="k53-5" class="w c5"><ellipse rx="17" ry="20.8"/><text y="6.5">→</text></g><g id="k53-6" class="b c6"><ellipse rx="17" ry="20.8"/><text y="6.5">→</text></g><g id="k53-7" class="d c7"><ellipse rx="17" ry="20.8"/><text y="6.5">→</text></g><g id="k53-8" class="y c8"><ellipse rx="17" ry="20.8"/><text y="6.5">→</text></g></g>
<g transform="translate(0 2756)"><text class="L">54</text><text class="R">54</text><g id="k54-1" class="b"><ellipse rx="17" ry="20.8"/><text y="6.5">←</text></g><g id="k54-2" class="b c2"><ellipse rx="17" ry="20.8"/><text y="6.5">←</text></g><g id="k54-3" class="b c3"><ellipse rx="17" ry="20.8"/><text y="6.5">←</text></g><g id="k54-4" class="b c4"><ellipse rx="17" ry="20.8"/><text y="6.5">←</text></g><g id="k54-5" class="b c5"><ellipse rx="17" ry="20.8"/><text y="6.5">←</text></g><g id="k54-6" class="b c6"><ellipse rx="17" ry="20.8"/><text y="6.5">←</text></g><g id="k54-7" class="y c7"><ellipse rx="17" ry="20.8"/><text y="6.5">←</text></g><g id="k54-8" class="b c8"><ellipse rx="17" ry="20.8"/><text y="6.5">←</text></g></g>
<g transform="translate(0 2808)"><text class="L">55</text><text class="R">55</text><g id="k55-1" class="b"><ellipse rx="17" ry="20.8"/><text y="6.5">→</text></g><g id="k55-2" class="b c2"><ellipse rx="17" ry="20.8"/><text y="6.5">→</text></g><g id="k55-3" class="b c3"><ellipse rx="17" ry="20.8"/><text y="6.5">→</text></g><g id="k55-4" class="b c4"><ellipse rx="17" ry="20.8"/><text y="6.5">→</text></g><g id="k55-5" class="b c5"><ellipse rx="17" ry="20.8"/><text y="6.5">→</text></g><g id="k55-6" class="b c6"><ellipse rx="17" ry="20.8"/><text y="6.5">→</text></g><g id="k55-7" class="b c7"><ellipse rx="17" ry="20.8"/><text y="6.5">→</text></g><g id="k55-8" class="b c8"><ellipse rx="17" ry="20.8"/><text y="6.5">→</text></g></g>
<g transform="translate(0 2860)"><text class="L">56</text><text class="R">56</text><g id="k56-1" class="b"><ellipse rx="17" ry="20.8"/><text y="6.5">←</text></g><g id="k56-2" class="w c2"><ellipse rx="17" ry="20.8"/><text y="6.5">←</text></g><g id="k56-3" class="b c3"><ellipse rx="17" ry="20.8"/><text y="6.5">←</text></g><g id="k56-4" class="b c4"><ellipse rx="17" ry="20.8"/><text y="6.5">←</text></g><g id="k56-5" class="b c5"><ellipse rx="17" ry="20.8"/><text y="6.5">←</text></g><g id="k56-6" class="b c6"><ellipse rx="17" ry="20.8"/><text y="6.5">←</text></g><g id="k56-7" class="b c7"><ellipse rx="17" ry="20.8"/><text y="6.5">←</text></g><g id="k56-8" class="b c8"><ellipse rx="17" ry="20.8"/><text y="6.5">←</text></g></g>
<g transform="translate(0 2912)"><text class="L">57</text><text class="R">57</text><g id="k57-1" class="b"><ellipse rx="17" ry="20.8"/><text y="6.5">→</text></g><g id="k57-2" class="b c2"><ellipse rx="17" ry="20.8"/><text y="6.5">→</text></g><g id="k57-3" class="b c3"><ellipse rx="17" ry="20.8"/><text y="6.5">→</text></g><g id="k57-4" class="b c4"><ellipse rx="17" ry="20.8"/><text y="6.5">→</text></g><g id="k57-5" class="b c5"><ellipse rx="17" ry="20.8"/><text y="6.5">→</text></g><g id="k57-6" class="b c6"><ellipse rx="17" ry="20.8"/><text y="6.5">→</text></g><g id="k57-7" class="b c7"><ellipse rx="17" ry="20.8"/><text y="6.5">→</text></g><g id="k57-8" class="b c8"><ellipse rx="17" ry="20.8"/><text y="6.5">→</text></g></g>
<g transform="translate(0 2964)"><text class="L">58</text><text class="R">58</text><g id="k58-1" class="b"><ellipse rx="17" ry="20.8"/><text y="6.5">←</text></g><g id="k58-2" class="b c2"><ellipse rx="17" ry="20.8"/><text y="6.5">←</text></g><g id="k58-3" class="b c3"><ellipse rx="17" ry="20.8"/><text y="6.5">←</text></g><g id="k58-4" class="y c4"><ellipse rx="17" ry="20.8"/><text y="6.5">←</text></g><g id="k58-5" class="b c5"><ellipse rx="17" ry="20.8"/><text y="6.5">←</text></g><g id="k58-6" class="b c6"><ellipse rx="17" ry="20.8"/><text y="6.5">←</text></g><g id="k58-7" class="b c7"><ellipse rx="17" ry="20.8"/><text y="6.5">←</text></g><g id="k58-8" class="b c8"><ellipse rx="17" ry="20.8"/><text y="6.5">←</text></g></g>
<g transform="translate(0 3016)"><text class="L">59</text><text class="R">59</text><g id="k59-1" class="b"><ellipse rx="17" ry="20.8"/><text y="6.5">→</text></g><g id="k59-2" class="b c2"><ellipse rx="17" ry="20.8"/><text y="6.5">→</text></g><g id="k59-3" class="b c3"><ellipse rx="17" ry="20.8"/><text y="6.5">→</text></g><g id="k59-4" class="d c4"><ellipse rx="17" ry="20.8"/><text y="6.5">→</text></g><g id="k59-5" class="y c5"><ellipse rx="17" ry="20.8"/><text y="6.5">→</text></g><g id="k59-6" class="b c6"><ellipse rx="17" ry="20.8"/><text y="6.5">→</text></g><g id="k59-7" class="b c7"><ellipse rx="17" ry="20.8"/><text y="6.5">→</text></g><g id="k59-8" class="b c8"><ellipse rx="17" ry="20.8"/><text y="6.5">→</text></g></g>
<g transform="translate(0 3068)"><text class="L">60</text><text class="R">60</text><g id="k60-1" class="b"><ellipse rx="17" ry="20.8"/><text y="6.5">←</text></g><g id="k60-2" class="w c2"><ellipse rx="17" ry="20.8"/><text y="6.5">←</text></g><g id="k60-3" class="w c3"><ellipse rx="17" ry="20.8"/><text y="6.5">←</text></g><g id="k60-4" class="b c4"><ellipse rx="17" ry="20.8"/><text y="6.5">←</text></g><g id="k60-5" class="b c5"><ellipse rx="17" ry="20.8"/><text y="6.5">←</text></g><g id="k60-6" class="b c6"><ellipse rx="17" ry="20.8"/><text y="6.5">←</text></g><g id="k60-7" class="b c7"><ellipse rx="17" ry="20.8"/><text y="6.5">←</text></g><g id="k60-8" class="b c8"><ellipse rx="17" ry="20.8"/><text y="6.5">←</text></g></g>
<g transform="translate(0 3120)"><text class="L">61</text><text class="R">61</text><g id="k61-1" class="w"><ellipse rx="17" ry="20.8"/><text y="6.5">→</text></g><g id="k61-2" class="y c2"><ellipse rx="17" ry="20.8"/><text y="6.5">→</text></g><g id="k61-3" class="y c3"><ellipse rx="17" ry="20.8"/><text y="6.5">→</text></g><g id="k61-4" class="w c4"><ellipse rx="17" ry="20.8"/><text y="6.5">→</text></g><g id="k61-5" class="b c5"><ellipse rx="17" ry="20.8"/><text y="6.5">→</text></g><g id="k61-6" class="b c6"><ellipse rx="17" ry="20.8"/><text y="6.5">→</text></g><g id="k61-7" class="b c7"><ellipse rx="17" ry="20.8"/><text y="6.5">→</text></g><g id="k61-8" class="b c8"><ellipse rx="17" ry="20.8"/><text y="6.5">→</text></g></g>
<g transform="translate(0 3172)"><text class="L">62</text><text class="R">62</text><g id="k62-1" class="w"><ellipse rx="17" ry="20.8"/><text y="6.5">←</text></g><g id="k62-2" class="y c2"><ellipse rx="17" ry="20.8"/><text y="6.5">←</text></g><g id="k62-3" class="y c3"><ellipse rx="17" ry="20.8"/><text y="6.5">←</text></g><g id="k62-4" class="w c4"><ellipse rx="17" ry="20.8"/><text y="6.5">←</text></g><g id="k62-5" class="b c5"><ellipse rx="17" ry="20.8"/><text y="6.5">←</text></g><g id="k62-6" class="b c6"><ellipse rx="17" ry="20.8"/><text y="6.5">←</text></g><g id="k62-7" class="b c7"><ellipse rx="17" ry="20.8"/><text y="6.5">←</text></g><g id="k62-8" class="b c8"><ellipse rx="17" ry="20.8"/><text y="6.5">←</text></g></g>
<g transform="translate(0 3224)"><text class="L">63</text><text class="R">63</text><g id="k63-1" class="b"><ellipse rx="17" ry="20.8"/><text y="6.5">→</text></g><g id="k63-2" class="w c2"><ellipse rx="17" ry="20.8"/><text y="6.5">→</text></g><g id="k63-3" class="w c3"><ellipse rx="17" ry="20.8"/><text y="6.5">→</text></g><g id="k63-4" class="g c4"><ellipse rx="17" ry="20.8"/><text y="6.5">→</text></g><g id="k63-5" class="g c5"><ellipse rx="17" ry="20.8"/><text y="6.5">→</text></g><g id="k63-6" class="b c6"><ellipse rx="17" ry="20.8"/><text y="6.5">→</text></g><g id="k63-7" class="b c7"><ellipse rx="17" ry="20.8"/><text y="6.5">→</text></g><g id="k63-8" class="b c8"><ellipse rx="17" ry="20.8"/><text y="6.5">→</text></g></g>
<g transform="translate(0 3276)"><text class="L">64</text><text class="R">64</text><g id="k64-1" class="b"><ellipse rx="17" ry="20.8"/><text y="6.5">←</text></g><g id="k64-2" class="b c2"><ellipse rx="17" ry="20.8"/><text y="6.5">←</text></g><g id="k64-3" class="b c3"><ellipse rx="17" ry="20.8"/><text y="6.5">←</text></g><g id="k64-4" class="g c4"><ellipse rx="17" ry="20.8"/><text y="6.5">←</text></g><g id="k64-5" class="b c5"><ellipse rx="17" ry="20.8"/><text y="6.5">←</text></g><g id="k64-6" class="b c6"><ellipse rx="17" ry="20.8"/><text y="6.5">←</text></g><g id="k64-7" class="b c7"><ellipse rx="17" ry="20.8"/><text y="6.5">←</text></g><g id="k64-8" class="b c8"><ellipse rx="17" ry="20.8"/><text y="6.5">←</text></g></g>
<g transform="translate(0 3328)"><text class="L">65</text><text class="R">65</text><g id="k65-1" class="b"><ellipse rx="17" ry="20.8"/><text y="6.5">→</text></g><g id="k65-2" class="b c2"><ellipse rx="17" ry="20.8"/><text y="6.5">→</text></g><g id="k65-3" class="b c3"><ellipse rx="17" ry="20.8"/><text y="6.5">→</text></g><g id="k65-4" class="b c4"><ellipse rx="17" ry="20.8"/><text y="6.5">→</text></g><g id="k65-5" class="b c5"><ellipse rx="17" ry="20.8"/><text y="6.5">→</text></g><g id="k65-6" class="b c6"><ellipse rx="17" ry="20.8"/><text y="6.5">→</text></g><g id="k65-7" class="b c7"><ellipse rx="17" ry="20.8"/><text y="6.5">→</text></g><g id="k65-8" class="b c8"><ellipse rx="17" ry="20.8"/><text y="6.5">→</text></g></g>
<g transform="translate(0 3380)"><text class="L">66</text><text class="R">66</text><g id="k66-1" class="b"><ellipse rx="17" ry="20.8"/><text y="6.5">←</text></g><g id="k66-2" class="b c2"><ellipse rx="17" ry="20.8"/><text y="6.5">←</text></g><g id="k66-3" class="b c3"><ellipse rx="17" ry="20.8"/><text y="6.5">←</text></g><g id="k66-4" class="b c4"><ellipse rx="17" ry="20.8"/><text y="6.5">←</text></g><g id="k66-5" class="b c5"><ellipse rx="17" ry="20.8"/><text y="6.5">←</text></g><g id="k66-6" class="b c6"><ellipse rx="17" ry="20.8"/><text y="6.5">←</text></g><g id="k66-7" class="w c7"><ellipse rx="17" ry="20.8"/><text y="6.5">←</text></g><g id="k66-8" class="b c8"><ellipse rx="17" ry="20.8"/><text y="6.5">←</text></g></g>
<g transform="translate(0 3432)"><text class="L">67</text><text class="R">67</text><g id="k67-1" class="b"><ellipse rx="17" ry="20.8"/><text y="6.5">→</text></g><g id="k67-2" class="b c2"><ellipse rx="17" ry="20.8"/><text y="6.5">→</text></g><g id="k67-3" class="b c3"><ellipse rx="17" ry="20.8"/><text y="6.5">→</text></g><g id="k67-4" class="b c4"><ellipse rx="17" ry="20.8"/><text y="6.5">→</text></g><g id="k67-5" class="b c5"><ellipse rx="17" ry="20.8"/><text y="6.5">→</text></g><g id="k67-6" class="b c6"><ellipse rx="17" ry="20.8"/><text y="6.5">→</text></g><g id="k67-7" class="b c7"><ellipse rx="17" ry="20.8"/><text y="6.5">→</text></g><g id="k67-8" class="b c8"><ellipse rx="17" ry="20.8"/><text y="6.5">→</text></g></g>
<g transform="translate(0 3484)"><text class="L">68</text><text class="R">68</text><g id="k68-1" class="b"><ellipse rx="17" ry="20.8"/><text y="6.5">←</text></g><g id="k68-2" class="b c2"><ellipse rx="17" ry="20.8"/><text y="6.5">←</text></g><g id="k68-3" class="g c3"><ellipse rx="17" ry="20.8"/><text y="6.5">←</text></g><g id="k68-4" class="b c4"><ellipse rx="17" ry="20.8"/><text y="6.5">←</text></g><g id="k68-5" class="b c5"><ellipse rx="17" ry="20.8"/><text y="6.5">←</text></g><g id="k68-6" class="b c6"><ellipse rx="17" ry="20.8"/><text y="6.5">←</text></g><g id="k68-7" class="b c7"><ellipse rx="17" ry="20.8"/><text y="6.5">←</text></g><g id="k68-8" class="b c8"><ellipse rx="17" ry="20.8"/><text y="6.5">←</text></g></g>
<g transform="translate(0 3536)"><text class="L">69</text><text class="R">69</text><g id="k69-1" class="b"><ellipse rx="17" ry="20.8"/><text y="6.5">→</text></g><g id="k69-2" class="g c2"><ellipse rx="17" ry="20.8"/><text y="6.5">→</text></g><g id="k69-3" class="g c3"><ellipse rx="17" ry="20.8"/><text y="6.5">→</text></g><g id="k69-4" class="w c4"><ellipse rx="17" ry="20.8"/><text y="6.5">→</text></g><g id="k69-5" class="w c5"><ellipse rx="17" ry="20.8"/><text y="6.5">→</text></g><g id="k69-6" class="b c6"><ellipse rx="17" ry="20.8"/><text y="6.5">→</text></g><g id="k69-7" class="b c7"><ellipse rx="17" ry="20.8"/><text y="6.5">→</text></g><g id="k69-8" class="b c8"><ellipse rx="17" ry="20.8"/><text y="6.5">→</text></g></g>
<g transform="translate(0 3588)"><text class="L">70</text><text class="R">70</text><g id="k70-1" class="b"><ellipse rx="17" ry="20.8"/><text y="6.5">←</text></g><g id="k70-2" class="b c2"><ellipse rx="17" ry="20.8"/><text y="6.5">←</text></g><g id="k70-3" class="w c3"><ellipse rx="17" ry="20.8"/><text y="6.5">←</text></g><g id="k70-4" class="y c4"><ellipse rx="17" ry="20.8"/><text y="6.5">←</text></g><g id="k70-5" class="y c5"><ellipse rx="17" ry="20.8"/><text y="6.5">←</text></g><g id="k70-6" class="w c6"><ellipse rx="17" ry="20.8"/><text y="6.5">←</text></g><g id="k70-7" class="b c7"><ellipse rx="17" ry="20.8"/><text y="6.5">←</text></g><g id="k70-8" class="b c8"><ellipse rx="17" ry="20.8"/><text y="6.5">←</text></g></g>
<g transform="translate(0 3640)"><text class="L">71</text><text class="R">71</text><g id="k71-1" class="b"><ellipse rx="17" ry="20.8"/><text y="6.5">→</text></g><g id="k71-2" class="b c2"><ellipse rx="17" ry="20.8"/><text y="6.5">→</text></g><g id="k71-3" class="w c3"><ellipse rx="17" ry="20.8"/><text y="6.5">→</text></g><g id="k71-4" class="y c4"><ellipse rx="17" ry="20.8"/><text y="6.5">→</text></g><g id="k71-5" class="y c5"><ellipse rx="17" ry="20.8"/><text y="6.5">→</text></g><g id="k71-6" class="w c6"><ellipse rx="17" ry="20.8"/><text y="6.5">→</text></g><g id="k71-7" class="b c7"><ellipse rx="17" ry="20.8"/><text y="6.5">→</text></g><g id="k71-8" class="b c8"><ellipse rx="17" ry="20.8"/><text y="6.5">→</text></g></g>
<g transform="translate(0 3692)"><text class="L">72</text><text class="R">72</text><g id="k72-1" class="b"><ellipse rx="17" ry="20.8"/><text y="6.5">←</text></g><g id="k72-2" class="b c2"><ellipse rx="17" ry="20.8"/><text y="6.5">←</text></g><g id="k72-3" class="b c3"><ellipse rx="17" ry="20.8"/><text y="6.5">←</text></g><g id="k72-4" class="w c4"><ellipse rx="17" ry="20.8"/><text y="6.5">←</text></g><g id="k72-5" class="w c5"><ellipse rx="17" ry="20.8"/><text y="6.5">←</text></g><g id="k72-6" class="b c6"><ellipse rx="17" ry="20.8"/><text y="6.5">←</text></g><g id="k72-7" class="d c7"><ellipse rx="17" ry="20.8"/><text y="6.5">←</text></g><g id="k72-8" class="y c8"><ellipse rx="17" ry="20.8"/><text y="6.5">←</text></g></g>
<g transform="translate(0 3744)"><text class="L">73</text><text class="R">73</text><g id="k73-1" class="b"><ellipse rx="17" ry="20.8"/><text y="6.5">→</text></g><g id="k73-2" class="b c2"><ellipse rx="17" ry="20.8"/><text y="6.5">→</text></g><g id="k73-3" class="b c3"><ellipse rx="17" ry="20.8"/><text y="6.5">→</text></g><g id="k73-4" class="b c4"><ellipse rx="17" ry="20.8"/><text y="6.5">→</text></g><g id="k73-5" class="b c5"><ellipse rx="17" ry="20.8"/><text y="6.5">→</text></g><g id="k73-6" class="b c6"><ellipse rx="17" ry="20.8"/><text y="6.5">→</text></g><g id="k73-7" class="y c7"><ellipse rx="17" ry="20.8"/><text y="6.5">→</text></g><g id="k73-8" class="b c8"><ellipse rx="17" ry="20.8"/><text y="6.5">→</text></g></g>
<g transform="translate(0 3796)"><text class="L">74</text><text class="R">74</text><g id="k74-1" class="b"><ellipse rx="17" ry="20.8"/><text y="6.5">←</text></g><g id="k74-2" class="b c2"><ellipse rx="17" ry="20.8"/><text y="6.5">←</text></g><g id="k74-3" class="b c3"><ellipse rx="17" ry="20.8"/><text y="6.5">←</text></g><g id="k74-4" class="b c4"><ellipse rx="17" ry="20.8"/><text y="6.5">←</text></g><g id="k74-5" class="b c5"><ellipse rx="17" ry="20.8"/><text y="6.5">←</text></g><g id="k74-6" class="b c6"><ellipse rx="17" ry="20.8"/><text y="6.5">←</text></g><g id="k74-7" class="b c7"><ellipse rx="17" ry="20.8"/><text y="6.5">←</text></g><g id="k74-8" class="b c8"><ellipse rx="17" ry="20.8"/><text y="6.5">←</text></g></g>
<g transform="translate(0 3848)"><text class="L">75</text><text class="R">75</text><g id="k75-1" class="b"><ellipse rx="17" ry="20.8"/><text y="6.5">→</text></g><g id="k75-2" class="w c2"><ellipse rx="17" ry="20.8"/><text y="6.5">→</text></g><g id="k75-3" class="b c3"><ellipse rx="17" ry="20.8"/><text y="6.5">→</text></g><g id="k75-4" class="b c4"><ellipse rx="17" ry="20.8"/><text y="6.5">→</text></g><g id="k75-5" class="b c5"><ellipse rx="17" ry="20.8"/><text y="6.5">→</text></g><g id="k75-6" class="b c6"><ellipse rx="17" ry="20.8"/><text y="6.5">→</text></g><g id="k75-7" class="b c7"><ellipse rx="17" ry="20.8"/><text y="6.5">→</text></g><g id="k75-8" class="b c8"><ellipse rx="17" ry="20.8"/><text y="6.5">→</text></g></g>
<g transform="translate(0 3900)"><text class="L">76</text><text class="R">76</text><g id="k76-1" class="b"><ellipse rx="17" ry="20.8"/><text y="6.5">←</text></g><g id="k76-2" class="b c2"><ellipse rx="17" ry="20.8"/><text y="6.5">←</text></g><g id="k76-3" class="b c3"><ellipse rx="17" ry="20.8"/><text y="6.5">←</text></g><g id="k76-4" class="b c4"><ellipse rx="17" ry="20.8"/><text y="6.5">←</text></g><g id="k76-5" class="b c5"><ellipse rx="17" ry="20.8"/><text y="6.5">←</text></g><g id="k76-6" class="b c6"><ellipse rx="17" ry="20.8"/><text y="6.5">←</text></g><g id="k76-7" class="b c7"><ellipse rx="17" ry="20.8"/><text y="6.5">←</text></g><g id="k76-8" class="b c8"><ellipse rx="17" ry="20.8"/><text y="6.5">←</text></g></g>
<g transform="translate(0 3952)"><text class="L">77</text><text class="R">77</text><g id="k77-1" class="b"><ellipse rx="17" ry="20.8"/><text y="6.5">→</text></g><g id="k77-2" class="b c2"><ellipse rx="17" ry="20.8"/><text y="6.5">→</text></g><g id="k77-3" class="b c3"><ellipse rx="17" ry="20.8"/><text y="6.5">→</text></g><g id="k77-4" class="y c4"><ellipse rx="17" ry="20.8"/><text y="6.5">→</text></g><g id="k77-5" class="b c5"><ellipse rx="17" ry="20.8"/><text y="6.5">→</text></g><g id="k77-6" class="b c6"><ellipse rx="17" ry="20.8"/><text y="6.5">→</text></g><g id="k77-7" class="b c7"><ellipse rx="17" ry="20.8"/><text y="6.5">→</text></g><g id="k77-8" class="b c8"><ellipse rx="17" ry="20.8"/><text y="6.5">→</text></g></g>
<g transform="translate(0 4004)"><text class="L">78</text><text class="R">78</text><g id="k78-1" class="b"><ellipse rx="17" ry="20.8"/><text y="6.5">←</text></g><g id="k78-2" class="b c2"><ellipse rx="17" ry="20.8"/><text y="6.5">←</text></g><g id="k78-3" class="b c3"><ellipse rx="17" ry="20.8"/><text y="6.5">←</text></g><g id="k78-4" class="d c4"><ellipse rx="17" ry="20.8"/><text y="6.5">←</text></g><g id="k78-5" class="y c5"><ellipse rx="17" ry="20.8"/><text y="6.5">←</text></g><g id="k78-6" class="b c6"><ellipse rx="17" ry="20.8"/><text y="6.5">←</text></g><g id="k78-7" class="b c7"><ellipse rx="17" ry="20.8"/><text y="6.5">←</text></g><g id="k78-8" class="b c8"><ellipse rx="17" ry="20.8"/><text y="6.5">←</text></g></g>
<g transform="translate(0 4056)"><text class="L">79</text><text class="R">79</text><g id="k79-1" class="b"><ellipse rx="17" ry="20.8"/><text y="6.5">→</text></g><g id="k79-2" class="w c2"><ellipse rx="17" ry="20.8"/><text y="6.5">→</text></g><g id="k79-3" class="w c3"><ellipse rx="17" ry="20.8"/><text y="6.5">→</text></g><g id="k79-4" class="b c4"><ellipse rx="17" ry="20.8"/><text y="6.5">→</text></g><g id="k79-5" class="b c5"><ellipse rx="17" ry="20.8"/><text y="6.5">→</text></g><g id="k79-6" class="b c6"><ellipse rx="17" ry="20.8"/><text y="6.5">→</text></g><g id="k79-7" class="b c7"><ellipse rx="17" ry="20.8"/><text y="6.5">→</text></g><g id="k79-8" class="b c8"><ellipse rx="17" ry="20.8"/><text y="6.5">→</text></g></g>
<g transform="translate(0 4108)"><text class="L">80</text><text class="R">80</text><g id="k80-1" class="w"><ellipse rx="17" ry="20.8"/><text y="6.5">←</text></g><g id="k80-2" class="y c2"><ellipse rx="17" ry="20.8"/><text y="6.5">←</text></g><g id="k80-3" class="y c3"><ellipse rx="17" ry="20.8"/><text y="6.5">←</text></g><g id="k80-4" class="w c4"><ellipse rx="17" ry="20.8"/><text y="6.5">←</text></g><g id="k80-5" class="b c5"><ellipse rx="17" ry="20.8"/><text y="6.5">←</text></g><g id="k80-6" class="b c6"><ellipse rx="17" ry="20.8"/><text y="6.5">←</text></g><g id="k80-7" class="b c7"><ellipse rx="17" ry="20.8"/><text y="6.5">←</text></g><g id="k80-8" class="b c8"><ellipse rx="17" ry="20.8"/><text y="6.5">←</text></g></g>
<g transform="translate(0 4160)"><text class="L">81</text><text class="R">81</text><g id="k81-1" class="w"><ellipse rx="17" ry="20.8"/><text y="6.5">→</text></g><g id="k81-2" class="y c2"><ellipse rx="17" ry="20.8"/><text y="6.5">→</text></g><g id="k81-3" class="y c3"><ellipse rx="17" ry="20.8"/><text y="6.5">→</text></g><g id="k81-4" class="w c4"><ellipse rx="17" ry="20.8"/><text y="6.5">→</text></g><g id="k81-5" class="b c5"><ellipse rx="17" ry="20.8"/><text y="6.5">→</text></g><g id="k81-6" class="b c6"><ellipse rx="17" ry="20.8"/><text y="6.5">→</text></g><g id="k81-7" class="b c7"><ellipse rx="17" ry="20.8"/><text y="6.5">→</text></g><g id="k81-8" class="b c8"><ellipse rx="17" ry="20.8"/><text y="6.5">→</text></g></g>
<g transform="translate(0 4212)"><text class="L">82</text><text class="R">82</text><g id="k82-1" class="b"><ellipse rx="17" ry="20.8"/><text y="6.5">←</text></g><g id="k82-2" class="w c2"><ellipse rx="17" ry="20.8"/><text y="6.5">←</text></g><g id="k82-3" class="w c3"><ellipse rx="17" ry="20.8"/><text y="6.5">←</text></g><g id="k82-4" class="g c4"><ellipse rx="17" ry="20.8"/><text y="6.5">←</text></g><g id="k82-5" class="g c5"><ellipse rx="17" ry="20.8"/><text y="6.5">←</text></g><g id="k82-6" class="b c6"><ellipse rx="17" ry="20.8"/><text y="6.5">←</text></g><g id="k82-7" class="b c7"><ellipse rx="17" ry="20.8"/><text y="6.5">←</text></g><g id="k82-8" class="b c8"><ellipse rx="17" ry="20.8"/><text y="6.5">←</text></g></g>
<g transform="translate(0 4264)"><text class="L">83</text><text class="R">83</text><g id="k83-1" class="b"><ellipse rx="17" ry="20.8"/><text y="6.5">→</text></g><g id="k83-2" class="b c2"><ellipse rx="17" ry="20.8"/><text y="6.5">→</text></g><g id="k83-3" class="b c3"><ellipse rx="17" ry="20.8"/><text y="6.5">→</text></g><g id="k83-4" class="g c4"><ellipse rx="17" ry="20.8"/><text y="6.5">→</text></g><g id="k83-5" class="b c5"><ellipse rx="17" ry="20.8"/><text y="6.5">→</text></g><g id="k83-6" class="b c6"><ellipse rx="17" ry="20.8"/><text y="6.5">→</text></g><g id="k83-7" class="b c7"><ellipse rx="17" ry="20.8"/><text y="6.5">→</text></g><g id="k83-8" class="b c8"><ellipse rx="17" ry="20.8"/><text y="6.5">→</text></g></g>
<g transform="translate(0 4316)"><text class="L">84</text><text class="R">84</text><g id="k84-1" class="b"><ellipse rx="17" ry="20.8"/><text y="6.5">←</text></g><g id="k84-2" class="b c2"><ellipse rx="17" ry="20.8"/><text y="6.5">←</text></g><g id="k84-3" class="b c3"><ellipse rx="17" ry="20.8"/><text y="6.5">←</text></g><g id="k84-4" class="b c4"><ellipse rx="17" ry="20.8"/><text y="6.5">←</text></g><g id="k84-5" class="b c5"><ellipse rx="17" ry="20.8"/><text y="6.5">←</text></g><g id="k84-6" class="b c6"><ellipse rx="17" ry="20.8"/><text y="6.5">←</text></g><g id="k84-7" class="b c7"><ellipse rx="17" ry="20.8"/><text y="6.5">←</text></g><g id="k84-8" class="b c8"><ellipse rx="17" ry="20.8"/><text y="6.5">←</text></g></g>
<g transform="translate(0 4368)"><text class="L">85</text><text class="R">85</text><g id="k85-1" class="b"><ellipse rx="17" ry="20.8"/><text y="6.5">→</text></g><g id="k85-2" class="b c2"><ellipse rx="17" ry="20.8"/><text y="6.5">→</text></g><g id="k85-3" class="b c3"><ellipse rx="17" ry="20.8"/><text y="6.5">→</text></g><g id="k85-4" class="b c4"><ellipse rx="17" ry="20.8"/><text y="6.5">→</text></g><g id="k85-5" class="b c5"><ellipse rx="17" ry="20.8"/><text y="6.5">→</text></g><g id="k85-6" class="b c6"><ellipse rx="17" ry="20.8"/><text y="6.5">→</text></g><g id="k85-7" class="w c7"><ellipse rx="17" ry="20.8"/><text y="6.5">→</text></g><g id="k85-8" class="b c8"><ellipse rx="17" ry="20.8"/><text y="6.5">→</text></g></g>
<g transform="translate(0 4420)"><text class="L">86</text><text class="R">86</text><g id="k86-1" class="b"><ellipse rx="17" ry="20.8"/><text y="6.5">←</text></g><g id="k86-2" class="b c2"><ellipse rx="17" ry="20.8"/><text y="6.5">←</text></g><g id="k86-3" class="b c3"><ellipse rx="17" ry="20.8"/><text y="6.5">←</text></g><g id="k86-4" class="b c4"><ellipse rx="17" ry="20.8"/><text y="6.5">←</text></g><g id="k86-5" class="b c5"><ellipse rx="17" ry="20.8"/><text y="6.5">←</text></g><g id="k86-6" class="b c6"><ellipse rx="17" ry="20.8"/><text y="6.5">←</text></g><g id="k86-7" class="b c7"><ellipse rx="17" ry="20.8"/><text y="6.5">←</text></g><g id="k86-8" class="b c8"><ellipse rx="17" ry="20.8"/><text y="6.5">←</text></g></g>
<g transform="translate(0 4472)"><text class="L">87</text><text class="R">87</text><g id="k87-1" class="b"><ellipse rx="17" ry="20.8"/><text y="6.5">→</text></g><g id="k87-2" class="b c2"><ellipse rx="17" ry="20.8"/><text y="6.5">→</text></g><g id="k87-3" class="g c3"><ellipse rx="17" ry="20.8"/><text y="6.5">→</text></g><g id="k87-4" class="b c4"><ellipse rx="17" ry="20.8"/><text y="6.5">→</text></g><g id="k87-5" class="b c5"><ellipse rx="17" ry="20.8"/><text y="6.5">→</text></g><g id="k87-6" class="b c6"><ellipse rx="17" ry="20.8"/><text y="6.5">→</text></g><g id="k87-7" class="b c7"><ellipse rx="17" ry="20.8"/><text y="6.5">→</text></g><g id="k87-8" class="b c8"><ellipse rx="17" ry="20.8"/><text y="6.5">→</text></g></g>
<g transform="translate(0 4524)"><text class="L">88</text><text class="R">88</text><g id="k88-1" class="b"><ellipse rx="17" ry="20.8"/><text y="6.5">←</text></g><g id="k88-2" class="g c2"><ellipse rx="17" ry="20.8"/><text y="6.5">←</text></g><g id="k88-3" class="g c3"><ellipse rx="17" ry="20.8"/><text y="6.5">←</text></g><g id="k88-4" class="w c4"><ellipse rx="17" ry="20.8"/><text y="6.5">←</text></g><g id="k88-5" class="w c5"><ellipse rx="17" ry="20.8"/><text y="6.5">←</text></g><g id="k88-6" class="b c6"><ellipse rx="17" ry="20.8"/><text y="6.5">←</text></g><g id="k88-7" class="b c7"><ellipse rx="17" ry="20.8"/><text y="6.5">←</text></g><g id="k88-8" class="b c8"><ellipse rx="17" ry="20.8"/><text y="6.5">←</text></g></g>
<g transform="translate(0 4576)"><text class="L">89</text><text class="R">89</text><g id="k89-1" class="b"><ellipse rx="17" ry="20.8"/><text y="6.5">→</text></g><g id="k89-2" class="b c2"><ellipse rx="17" ry="20.8"/><text y="6.5">→</text></g><g id="k89-3" class="w c3"><ellipse rx="17" ry="20.8"/><text y="6.5">→</text></g><g id="k89-4" class="y c4"><ellipse rx="17" ry="20.8"/><text y="6.5">→</text></g><g id="k89-5" class="y c5"><ellipse rx="17" ry="20.8"/><text y="6.5">→</text></g><g id="k89-6" class="w c6"><ellipse rx="17" ry="20.8"/><text y="6.5">→</text></g><g id="k89-7" class="b c7"><ellipse rx="17" ry="20.8"/><text y="6.5">→</text></g><g id="k89-8" class="b c8"><ellipse rx="17" ry="20.8"/><text y="6.5">→</text></g></g>
<g transform="translate(0 4628)"><text class="L">90</text><text class="R">90</text><g id="k90-1" class="b"><ellipse rx="17" ry="20.8"/><text y="6.5">←</text></g><g id="k90-2" class="b c2"><ellipse rx="17" ry="20.8"/><text y="6.5">←</text></g><g id="k90-3" class="w c3"><ellipse rx="17" ry="20.8"/><text y="6.5">←</text></g><g id="k90-4" class="y c4"><ellipse rx="17" ry="20.8"/><text y="6.5">←</text></g><g id="k90-5" class="y c5"><ellipse rx="17" ry="20.8"/><text y="6.5">←</text></g><g id="k90-6" class="w c6"><ellipse rx="17" ry="20.8"/><text y="6.5">←</text></g><g id="k90-7" class="b c7"><ellipse rx="17" ry="20.8"/><text y="6.5">←</text></g><g id="k90-8" class="b c8"><ellipse rx="17" ry="20.8"/><text y="6.5">←</text></g></g>
<g transform="translate(0 4680)"><text class="L">91</text><text class="R">91</text><g id="k91-1" class="b"><ellipse rx="17" ry="20.8"/><text y="6.5">→</text></g><g id="k91-2" class="b c2"><ellipse rx="17" ry="20.8"/><text y="6.5">→</text></g><g id="k91-3" class="b c3"><ellipse rx="17" ry="20.8"/><text y="6.5">→</text></g><g id="k91-4" class="w c4"><ellipse rx="17" ry="20.8"/><text y="6.5">→</text></g><g id="k91-5" class="w c5"><ellipse rx="17" ry="20.8"/><text y="6.5">→</text></g><g id="k91-6" class="b c6"><ellipse rx="17" ry="20.8"/><text y="6.5">→</text></g><g id="k91-7" class="d c7"><ellipse rx="17" ry="20.8"/><text y="6.5">→</text></g><g id="k91-8" class="y c8"><ellipse rx="17" ry="20.8"/><text y="6.5">→</text></g></g>
<g transform="translate(0 4732)"><text class="L">92</text><text class="R">92</text><g id="k92-1" class="b"><ellipse rx="17" ry="20.8"/><text y="6.5">←</text></g><g id="k92-2" class="b c2"><ellipse rx="17" ry="20.8"/><text y="6.5">←</text></g><g id="k92-3" class="b c3"><ellipse rx="17" ry="20.8"/><text y="6.5">←</text></g><g id="k92-4" class="b c4"><ellipse rx="17" ry="20.8"/><text y="6.5">←</text></g><g id="k92-5" class="b c5"><ellipse rx="17" ry="20.8"/><text y="6.5">←</text></g><g id="k92-6" class="b c6"><ellipse rx="17" ry="20.8"/><text y="6.5">←</text></g><g id="k92-7" class="y c7"><ellipse rx="17" ry="20.8"/><text y="6.5">←</text></g><g id="k92-8" class="b c8"><ellipse rx="17" ry="20.8"/><text y="6.5">←</text></g></g>
<g transform="translate(0 4784)"><text class="L">93</text><text class="R">93</text><g id="k93-1" class="b"><ellipse rx="17" ry="20.8"/><text y="6.5">→</text></g><g id="k93-2" class="b c2"><ellipse rx="17" ry="20.8"/><text y="6.5">→</text></g><g id="k93-3" class="b c3"><ellipse rx="17" ry="20.8"/><text y="6.5">→</text></g><g id="k93-4" class="b c4"><ellipse rx="17" ry="20.8"/><text y="6.5">→</text></g><g id="k93-5" class="b c5"><ellipse rx="17" ry="20.8"/><text y="6.5">→</text></g><g id="k93-6" class="b c6"><ellipse rx="17" ry="20.8"/><text y="6.5">→</text></g><g id="k93-7" class="b c7"><ellipse rx="17" ry="20.8"/><text y="6.5">→</text></g><g id="k93-8" class="b c8"><ellipse rx="17" ry="20.8"/><text y="6.5">→</text></g></g>
</g>
<text id="watermark" x="261.7" y="2484" font-family="Liberation Sans,Arial,sans-serif" font-size="13.5" font-weight="bold" fill="#444" fill-opacity="0.85" text-anchor="middle">BRACELETBOOK.COM</text>
</svg>
